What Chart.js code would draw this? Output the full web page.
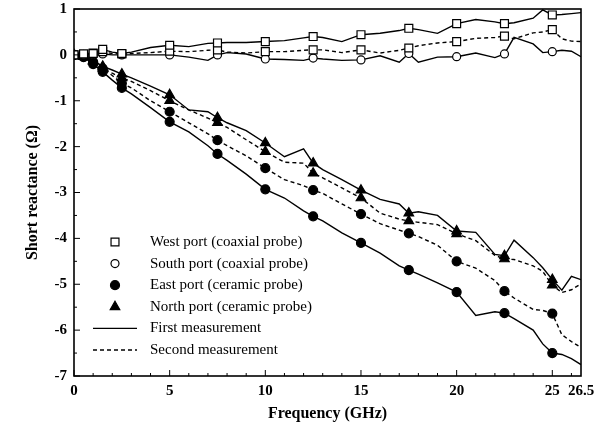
<!DOCTYPE html>
<html>
<head>
<meta charset="utf-8">
<script src="https://cdn.jsdelivr.net/npm/chart.js@4.4.1/dist/chart.umd.min.js"></script>
<style>
  html, body { margin: 0; padding: 0; background: #fff; }
  canvas { display: block; }
</style>
</head>
<body>
<canvas id="chart" width="602" height="438"></canvas>
<script>
// frequency grid (GHz) shared by every curve
const freq = [0, 0.5, 1, 1.5, 2, 2.5, 3, 4, 5, 6, 7, 7.5, 8, 9, 10, 11, 12, 12.5, 13, 14, 15,
  16, 17, 17.5, 18, 19, 20, 21, 22, 22.5, 23, 24, 24.5, 25, 25.5, 26, 26.5];
// frequencies where the markers sit
const markerFreq = [0, 0.5, 1, 1.5, 2.5, 5, 7.5, 10, 12.5, 15, 17.5, 20, 22.5, 25];

// short reactance (ohm)
const westFirst = [0, 0.02, 0.03, 0.12, 0.06, 0.03, 0.06, 0.16, 0.21, 0.18, 0.25, 0.26, 0.27, 0.27, 0.29, 0.31, 0.37, 0.4, 0.38, 0.29, 0.44,
  0.47, 0.53, 0.58, 0.55, 0.47, 0.68, 0.77, 0.72, 0.68, 0.7, 0.8, 0.98, 0.87, 0.88, 0.9, 0.92];
const westSecond = [0, 0.02, 0.04, 0.07, 0.03, 0.02, 0.03, 0.05, 0.08, 0.07, 0.1, 0.11, 0.06, 0.04, 0.07, 0.07, 0.1, 0.11, 0.11, 0.05, 0.11,
  0.04, 0.1, 0.15, 0.2, 0.26, 0.29, 0.36, 0.38, 0.41, 0.35, 0.48, 0.5, 0.55, 0.35, 0.3, 0.29];
const southFirst = [0, 0, 0.01, 0.02, 0, 0, 0, 0, 0, -0.05, -0.12, 0, 0.05, 0.02, -0.09, -0.1, -0.12, -0.07, -0.09, -0.12, -0.11,
  -0.02, -0.16, 0.03, -0.16, -0.05, -0.04, 0.04, -0.06, 0.02, 0.38, 0.24, 0.05, 0.07, 0.1, 0.08, -0.04];
const eastFirst = [0, -0.05, -0.2, -0.37, -0.55, -0.72, -0.85, -1.15, -1.46, -1.68, -1.98, -2.16, -2.3, -2.6, -2.93, -3.12, -3.4, -3.52, -3.62, -3.88, -4.1,
  -4.32, -4.6, -4.69, -4.78, -4.97, -5.17, -5.68, -5.6, -5.63, -5.75, -6.0, -6.3, -6.5, -6.53, -6.62, -6.75];
const eastSecond = [0, -0.04, -0.15, -0.3, -0.45, -0.62, -0.72, -1.0, -1.24, -1.48, -1.72, -1.86, -1.98, -2.2, -2.47, -2.72, -2.85, -2.95, -3.02, -3.25, -3.47,
  -3.68, -3.82, -3.89, -3.96, -4.15, -4.5, -4.65, -4.92, -5.15, -5.3, -5.55, -5.57, -5.64, -6.1, -6.25, -6.38];
const northFirst = [0, -0.03, -0.12, -0.25, -0.33, -0.42, -0.5, -0.68, -0.87, -1.2, -1.24, -1.37, -1.48, -1.65, -1.92, -2.22, -2.05, -2.36, -2.5, -2.72, -2.95,
  -3.15, -3.25, -3.45, -3.42, -3.5, -3.84, -3.87, -4.35, -4.38, -4.04, -4.42, -4.64, -4.9, -5.13, -4.83, -4.9];
const northSecond = [0, -0.04, -0.14, -0.29, -0.4, -0.5, -0.58, -0.78, -1.0, -1.2, -1.38, -1.48, -1.58, -1.85, -2.11, -2.34, -2.36, -2.58, -2.68, -2.9, -3.12,
  -3.45, -3.58, -3.62, -3.65, -3.7, -3.9, -4.05, -4.37, -4.45, -4.46, -4.6, -4.72, -5.02, -5.18, -5.12, -4.99];

const xTicks = [0, 5, 10, 15, 20, 25, 26.5];
const legendLabels = ["West port (coaxial probe)", "South port (coaxial probe)", "East port (ceramic probe)",
  "North port (ceramic probe)", "First measurement", "Second measurement"];

const FONT = "'Liberation Serif', 'Times New Roman', serif";
const markers = {
  west: { shape: "rect", r: 5.6, fill: "#fff" },
  south: { shape: "circle", r: 4, fill: "#fff" },
  east: { shape: "circle", r: 4.5, fill: "#000" },
  north: { shape: "triangle", r: 5.5, fill: "#000" }
};

function series(label, values, m, dashed) {
  return {
    label: label,
    data: values.map((v, i) => ({ x: freq[i], y: v })),
    borderColor: "#000",
    borderWidth: 1.4,
    borderDash: dashed ? [4, 3] : [],
    tension: 0,
    fill: false,
    pointStyle: m.shape,
    pointRadius: (ctx) => markerFreq.includes(freq[ctx.dataIndex]) ? m.r : 0,
    pointHoverRadius: 0,
    pointBackgroundColor: m.fill,
    pointBorderColor: "#000",
    pointBorderWidth: 1.2
  };
}

function drawMarker(ctx, m, x, y) {
  ctx.beginPath();
  if (m.shape === "rect") {
    const s = m.r * Math.SQRT1_2;
    ctx.rect(x - s, y - s, 2 * s, 2 * s);
  } else if (m.shape === "circle") {
    ctx.arc(x, y, m.r, 0, Math.PI * 2);
  } else {
    for (let k = 0; k < 3; k++) {
      const a = k * 2 * Math.PI / 3;
      const px = x + Math.sin(a) * m.r, py = y - Math.cos(a) * m.r;
      k === 0 ? ctx.moveTo(px, py) : ctx.lineTo(px, py);
    }
    ctx.closePath();
  }
  ctx.fillStyle = m.fill;
  ctx.fill();
  ctx.lineWidth = 1.2;
  ctx.strokeStyle = "#000";
  ctx.stroke();
}

// box, inward ticks and the in-plot legend
const framePlugin = {
  id: "frame",
  afterDatasetsDraw(chart) {
    const { ctx, chartArea: a, scales: { x, y } } = chart;
    ctx.save();
    ctx.strokeStyle = "#000";
    ctx.lineWidth = 1;
    ctx.beginPath();
    for (let v = 0; v <= 26; v++) {
      const px = x.getPixelForValue(v);
      const len = v % 5 === 0 ? 6 : 3;
      ctx.moveTo(px, a.bottom);
      ctx.lineTo(px, a.bottom - len);
    }
    for (let v = -7; v <= 1; v += 0.5) {
      const py = y.getPixelForValue(v);
      const len = Number.isInteger(v) ? 6 : 3;
      ctx.moveTo(a.left, py);
      ctx.lineTo(a.left + len, py);
    }
    ctx.stroke();
    ctx.lineWidth = 1.6;
    ctx.strokeRect(a.left, a.top, a.right - a.left, a.bottom - a.top);

    const rowTop = 242, rowGap = 21.6, markX = 115, textX = 150;
    const order = [markers.west, markers.south, markers.east, markers.north];
    ctx.font = "15px " + FONT;
    ctx.textBaseline = "middle";
    ctx.fillStyle = "#000";
    legendLabels.forEach((txt, i) => {
      const ry = rowTop + i * rowGap;
      if (i < 4) {
        drawMarker(ctx, order[i], markX, ry);
      } else {
        ctx.beginPath();
        ctx.lineWidth = 1.3;
        ctx.setLineDash(i === 5 ? [4, 3] : []);
        ctx.moveTo(93, ry);
        ctx.lineTo(137, ry);
        ctx.stroke();
        ctx.setLineDash([]);
      }
      ctx.fillStyle = "#000";
      ctx.fillText(txt, textX, ry);
    });
    ctx.restore();
  }
};

new Chart(document.getElementById("chart"), {
  type: "line",
  data: {
    datasets: [
      series("West port, first", westFirst, markers.west, false),
      series("West port, second", westSecond, markers.west, true),
      series("South port, first", southFirst, markers.south, false),
      series("East port, first", eastFirst, markers.east, false),
      series("East port, second", eastSecond, markers.east, true),
      series("North port, first", northFirst, markers.north, false),
      series("North port, second", northSecond, markers.north, true)
    ]
  },
  options: {
    responsive: false,
    animation: false,
    devicePixelRatio: 1,
    layout: { padding: { left: 0, right: 21, top: 9, bottom: 0 } },
    plugins: {
      legend: { display: false },
      tooltip: { enabled: false }
    },
    scales: {
      x: {
        type: "linear",
        min: 0,
        max: 26.5,
        afterBuildTicks: (s) => { s.ticks = xTicks.map(v => ({ value: v })); },
        afterFit: (s) => { s.height = 62; },
        grid: { display: false, drawTicks: false },
        border: { display: false },
        ticks: {
          padding: 6,
          maxRotation: 0,
          autoSkip: false,
          color: "#000",
          font: { family: FONT, size: 15, weight: "bold" },
          callback: (v) => String(v)
        },
        title: {
          display: true,
          text: "Frequency (GHz)",
          color: "#000",
          font: { family: FONT, size: 16, weight: "bold" },
          padding: { top: 0, bottom: 15 }
        }
      },
      y: {
        min: -7,
        max: 1,
        afterFit: (s) => { s.width = 74; },
        // tick marks are drawn by the plugin; tickLength only spaces the labels
        grid: { display: false, drawTicks: true, tickLength: 7 },
        border: { display: false },
        ticks: {
          stepSize: 1,
          padding: 0,
          color: "#000",
          font: { family: FONT, size: 15, weight: "bold" },
          callback: (v) => String(v)
        },
        title: {
          display: true,
          text: "Short reactance (Ω)",
          color: "#000",
          font: { family: FONT, size: 16, weight: "bold" },
          padding: { top: 23, bottom: 0 }
        }
      }
    }
  },
  plugins: [framePlugin]
});
</script>
</body>
</html>
